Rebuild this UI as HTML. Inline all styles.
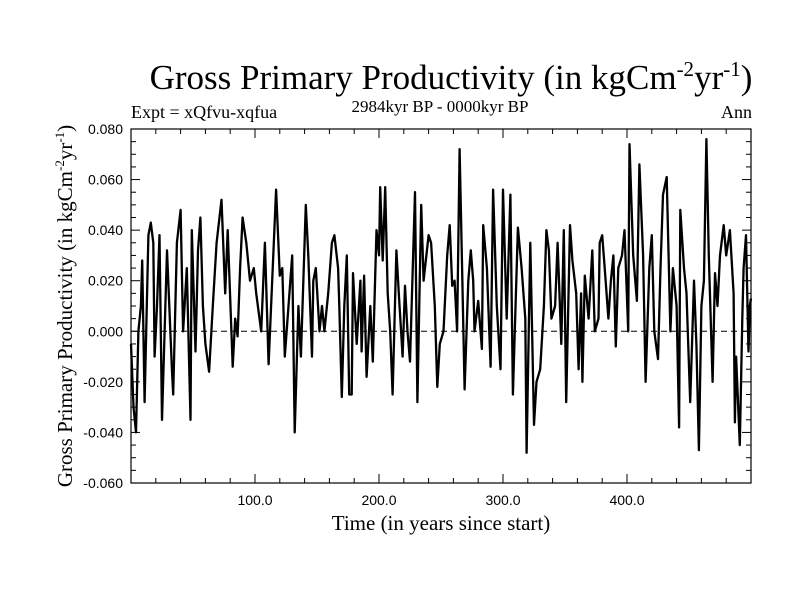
<!DOCTYPE html>
<html><head><meta charset="utf-8"><style>
body{margin:0;background:#fff}
svg text{font-family:"Liberation Serif",serif;fill:#000}
svg text.tk{font-family:"Liberation Sans",sans-serif}
</style></head><body>
<svg id="chart" width="800" height="600" xmlns="http://www.w3.org/2000/svg">
<rect width="800" height="600" fill="#fff"/>
<text x="451" y="89" font-size="35" text-anchor="middle">Gross Primary Productivity (in kgCm<tspan font-size="21" dy="-13">-2</tspan><tspan dy="13">yr</tspan><tspan font-size="21" dy="-13">-1</tspan><tspan dy="13">)</tspan></text>
<text x="131" y="118" font-size="18">Expt = xQfvu-xqfua</text>
<text x="440" y="112" font-size="17" text-anchor="middle">2984kyr BP - 0000kyr BP</text>
<text x="752" y="118" font-size="18" text-anchor="end">Ann</text>
<text transform="translate(72,306) rotate(-90)" font-size="21" text-anchor="middle">Gross Primary Productivity (in kgCm<tspan font-size="13" dy="-8">-2</tspan><tspan dy="8">yr</tspan><tspan font-size="13" dy="-8">-1</tspan><tspan dy="8">)</tspan></text>
<text x="441" y="530" font-size="21" text-anchor="middle">Time (in years since start)</text>
<g id="axes"></g>
<g id="series"></g>
</svg>
<script>
const xTickValues=[100,200,300,400];
const xTickLabels=["100.0","200.0","300.0","400.0"];
const yTickValues=[-0.06,-0.04,-0.02,0,0.02,0.04,0.06,0.08];
const yTickLabels=["-0.060","-0.040","-0.020","0.000","0.020","0.040","0.060","0.080"];
const years=[0,2,4,6,8,9,11,14,16,18,19,21,23,25,29,33,34,37,40,42,45,48,49,52,54,56,58,60,63,66,69,73,76,78,82,84,86,88,90,93,96,99,101,105,108,111,113,117,120,122,124,127,130,132,135,137,141,143,146,147,149,152,154,156,159,162,164,167,168,170,172,174,176,178,179,182,185,186,188,190,193,195,198,200,201,203,205,207,209,211,214,216,219,221,223,225,229,231,234,236,240,242,245,247,249,252,255,257,259,261,263,265,267,269,272,274,276,277,280,283,284,287,290,292,295,298,300,303,306,308,312,315,318,319,322,325,327,330,333,335,337,339,342,344,347,349,351,354,356,359,361,363,364,366,369,372,374,377,378,380,382,385,387,389,391,393,396,398,401,402,405,408,410,413,415,418,420,422,425,427,429,432,435,437,440,442,443,446,448,451,454,456,458,460,462,464,466,469,471,473,475,478,480,483,486,487,488,491,493,494,496,498,499,500];
const gpp=[-0.005,-0.03,-0.04,0,0.01,0.028,-0.028,0.038,0.043,0.035,-0.01,0.01,0.038,-0.035,0.032,-0.015,-0.025,0.035,0.048,0,0.025,-0.035,0.04,-0.008,0.032,0.045,0.01,-0.005,-0.016,0.01,0.035,0.052,0.015,0.04,-0.014,0.005,-0.002,0.025,0.045,0.035,0.02,0.025,0.015,0,0.035,-0.013,0.01,0.056,0.022,0.025,-0.01,0.01,0.03,-0.04,0.01,-0.01,0.05,0.03,-0.01,0.02,0.025,0,0.01,0,0.015,0.035,0.038,0.025,0.01,-0.026,0.01,0.03,-0.025,-0.025,0.023,-0.005,0.02,-0.008,0.022,-0.018,0.01,-0.012,0.04,0.03,0.057,0.028,0.057,0.015,0,-0.025,0.032,0.015,-0.01,0.018,0,-0.012,0.055,-0.028,0.05,0.02,0.038,0.035,0.01,-0.022,-0.005,0,0.03,0.042,0.018,0.02,0,0.072,0.025,-0.023,0.02,0.032,0.02,0,0.012,-0.007,0.042,0.025,-0.014,0.056,0.01,-0.015,0.056,0.005,0.054,-0.025,0.041,0.025,0.005,-0.048,0.035,-0.037,-0.02,-0.015,0.01,0.04,0.032,0.005,0.01,0.035,-0.005,0.04,-0.028,0.042,0.028,0.015,-0.015,0.015,-0.02,0.022,0.005,0.032,0,0.005,0.035,0.038,0.025,0.005,0.02,0.03,-0.006,0.025,0.03,0.04,0,0.074,0.03,0.012,0.066,0.03,-0.02,0.025,0.038,0,-0.011,0.025,0.054,0.061,0,0.025,0.01,-0.038,0.048,0.025,0.015,-0.028,0.02,-0.005,-0.047,0.01,0.02,0.076,0.03,-0.02,0.023,0.01,0.03,0.042,0.03,0.04,0.015,-0.036,-0.01,-0.045,0.005,0.025,0.038,-0.008,0.01,0.013];
const X0=131,X1=751,Y0=483,Y1=129,xMin=0,xMax=500,yMin=-0.06,yMax=0.08;
function xs(v){return X0+(v-xMin)/(xMax-xMin)*(X1-X0);}
function ys(v){return Y0-(v-yMin)/(yMax-yMin)*(Y0-Y1);}
const NS="http://www.w3.org/2000/svg";
const axes=document.getElementById('axes'),series=document.getElementById('series');
function mk(tag,attrs,parent){const e=document.createElementNS(NS,tag);for(const k in attrs)e.setAttribute(k,attrs[k]);parent.appendChild(e);return e;}
const zl=mk('line',{x1:X0,x2:X1,y1:ys(0),y2:ys(0),stroke:'#000','stroke-width':1,'stroke-dasharray':'6,4'},axes);


const frame=mk('rect',{x:X0,y:Y1,width:X1-X0,height:Y0-Y1,fill:'none',stroke:'#000','stroke-width':1.2},axes);


for(let v=20;v<500;v+=20){const maj=v%100===0,L=maj?9:5,x=xs(v);
 const t1=mk('line',{x1:x,x2:x,y1:Y0,y2:Y0-L,stroke:'#000'},axes);
 
 
 const t2=mk('line',{x1:x,x2:x,y1:Y1,y2:Y1+L,stroke:'#000'},axes);
 
 }
xTickValues.forEach((v,i)=>{const t=mk('text',{x:xs(v),y:Y0+22,'font-size':14,'text-anchor':'middle','class':'tk'},axes);t.textContent=xTickLabels[i];
 
 });
for(let k=0;k<=28;k++){const v=yMin+k*0.005,maj=k%4===0,L=maj?9:5,y=ys(v);
 const t1=mk('line',{x1:X0,x2:X0+L,y1:y,y2:y,stroke:'#000'},axes);
 
 
 const t2=mk('line',{x1:X1,x2:X1-L,y1:y,y2:y,stroke:'#000'},axes);
 
 }
yTickValues.forEach((v,i)=>{const t=mk('text',{x:X0-8,y:ys(v)+5,'font-size':14,'text-anchor':'end','class':'tk'},axes);t.textContent=yTickLabels[i];
 
 });
const d=years.map((yr,i)=>(i?'L':'M')+xs(yr).toFixed(1)+','+ys(gpp[i]).toFixed(1)).join('');
const p=mk('path',{d:d,fill:'none',stroke:'#000','stroke-width':2.3,'stroke-linejoin':'round'},series);


</script>
</body></html>
